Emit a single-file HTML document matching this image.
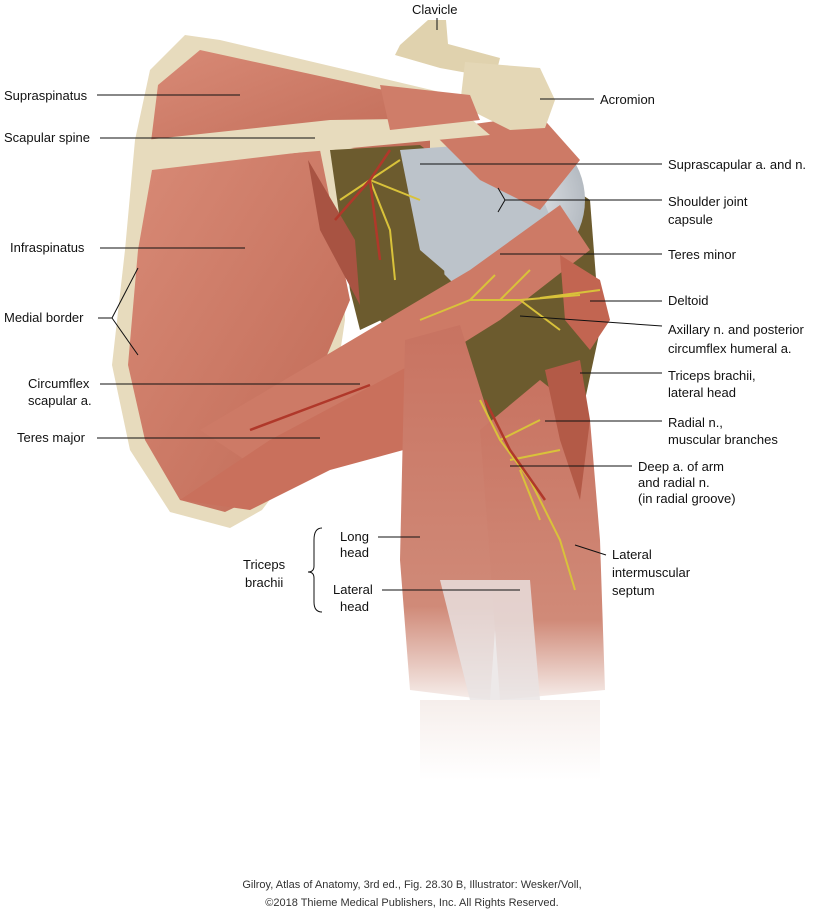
<!DOCTYPE html>
<html><head><meta charset="utf-8"><style>
html,body{margin:0;padding:0;background:#fff;}
svg{display:block}
text{font-family:"Liberation Sans",sans-serif;font-size:13px;fill:#111}
.c{font-size:11px;fill:#333}
line,polyline{stroke:#111;stroke-width:1;fill:none}
</style></head><body>
<svg width="825" height="918" viewBox="0 0 825 918" xmlns="http://www.w3.org/2000/svg">
<defs>
<linearGradient id="m" x1="0" y1="0" x2="1" y2="1">
<stop offset="0" stop-color="#d88a76"/><stop offset="1" stop-color="#c06a56"/></linearGradient>
<linearGradient id="arm" x1="0" y1="0" x2="0" y2="1">
<stop offset="0" stop-color="#c87361"/><stop offset="0.75" stop-color="#d08a78"/><stop offset="1" stop-color="#f6eeeb"/></linearGradient>
<linearGradient id="fade" x1="0" y1="0" x2="0" y2="1">
<stop offset="0" stop-color="#f6eeeb"/><stop offset="1" stop-color="#fff"/></linearGradient>
<radialGradient id="hh" cx="0.5" cy="0.5" r="0.6"><stop offset="0" stop-color="#f0f2f4"/><stop offset="1" stop-color="#a9b0b8"/></radialGradient>
</defs>
<rect x="420" y="700" width="180" height="80" fill="url(#fade)"/>
<path d="M330 140 L470 120 L590 200 L600 330 L570 470 L520 520 L450 420 L380 320 Z" fill="#6c5b2e"/>
<ellipse cx="510" cy="200" rx="75" ry="75" fill="url(#hh)"/>
<path d="M400 150 L520 145 L560 240 L470 300 L420 250 Z" fill="#bcc3ca"/>
<path d="M185 35 L220 40 L440 92 L450 150 L340 160 L345 320 L330 420 L262 510 L230 528 L170 512 L130 450 L112 365 L125 250 L135 140 L150 70 Z" fill="#e7dbbd"/>
<path d="M200 50 L430 100 L430 160 L330 145 L150 150 L158 85 Z" fill="url(#m)"/>
<path d="M152 170 L320 150 L350 300 L300 420 L250 500 L225 512 L180 500 L145 440 L128 365 L138 250 Z" fill="url(#m)"/>
<path d="M330 150 L420 145 L440 160 L445 290 L360 330 L350 290 Z" fill="#6c5b2e"/>
<path d="M400 150 L470 145 L455 280 L420 250 Z" fill="#bcc3ca"/>
<path d="M430 130 L540 115 L580 160 L540 210 L480 180 Z" fill="#cd7a66"/>
<path d="M145 140 L330 120 L470 118 L490 135 L330 150 L150 165 Z" fill="#e7dbbd"/>
<path d="M428 20 L446 20 L448 44 L500 58 L495 78 L440 68 L395 55 L400 45 Z" fill="#e0d2ae"/>
<path d="M465 62 L540 68 L555 100 L545 128 L510 130 L460 105 Z" fill="#e4d7b6"/>
<path d="M380 85 L470 95 L480 120 L390 130 Z" fill="#cf7d69"/>
<path d="M308 160 L355 240 L360 305 L320 230 Z" fill="#a85342"/>
<path d="M200 430 L470 270 L560 205 L590 250 L500 320 L260 470 Z" fill="#cd7a66"/>
<path d="M180 500 L270 440 L420 360 L440 440 L330 470 L250 510 Z" fill="#c9705c"/>
<path d="M560 255 L600 280 L610 320 L590 350 L565 320 Z" fill="#c26551"/>
<path d="M405 340 L460 325 L490 420 L500 560 L490 700 L410 690 L400 560 Z" fill="url(#arm)"/>
<path d="M480 430 L540 380 L590 420 L600 540 L605 690 L500 700 L490 560 Z" fill="url(#arm)"/>
<path d="M440 580 L530 580 L540 700 L470 700 Z" fill="#e9e4e4" opacity="0.8"/>
<path d="M545 370 L580 360 L590 420 L580 500 L560 440 Z" fill="#b35a47"/>
<g stroke="#d9c23a" stroke-width="2" fill="none">
<path d="M420 320 L470 300 L520 300 L580 295"/>
<path d="M470 300 L495 275 M500 300 L530 270 M520 300 L560 330 M540 298 L600 290"/>
<path d="M480 400 L500 440 L530 480 L560 540 L575 590"/>
<path d="M500 440 L540 420 M510 460 L560 450 M520 470 L540 520"/>
<path d="M340 200 L370 180 L400 160 M370 180 L390 230 L395 280 M370 180 L420 200"/>
</g>
<g stroke="#b0382a" stroke-width="2.5" fill="none">
<path d="M335 220 L370 180 L390 150 M370 180 L380 260"/>
<path d="M485 400 L510 450 L545 500"/>
<path d="M250 430 L330 400 L370 385"/>
</g>
<text x="412" y="14">Clavicle</text>
<line x1="437" y1="18" x2="437" y2="30"/>
<text x="4" y="100">Supraspinatus</text><line x1="97" y1="95" x2="240" y2="95"/>
<text x="4" y="142">Scapular spine</text><line x1="100" y1="138" x2="315" y2="138"/>
<text x="10" y="252">Infraspinatus</text><line x1="100" y1="248" x2="245" y2="248"/>
<text x="4" y="322">Medial border</text>
<polyline points="138,268 112,318 138,355"/><line x1="98" y1="318" x2="112" y2="318"/>
<text x="28" y="388">Circumflex</text><text x="28" y="405">scapular a.</text>
<line x1="100" y1="384" x2="360" y2="384"/>
<text x="17" y="442">Teres major</text><line x1="97" y1="438" x2="320" y2="438"/>
<text x="600" y="104">Acromion</text><line x1="540" y1="99" x2="594" y2="99"/>
<text x="668" y="169">Suprascapular a. and n.</text><line x1="420" y1="164" x2="662" y2="164"/>
<text x="668" y="206">Shoulder joint</text><text x="668" y="224">capsule</text>
<polyline points="498,188 505,200 498,212"/><line x1="505" y1="200" x2="662" y2="200"/>
<text x="668" y="259">Teres minor</text><line x1="500" y1="254" x2="662" y2="254"/>
<text x="668" y="305">Deltoid</text><line x1="590" y1="301" x2="662" y2="301"/>
<text x="668" y="334">Axillary n. and posterior</text><text x="668" y="353">circumflex humeral a.</text>
<line x1="520" y1="316" x2="662" y2="326"/>
<text x="668" y="380">Triceps brachii,</text><text x="668" y="397">lateral head</text>
<line x1="580" y1="373" x2="662" y2="373"/>
<text x="668" y="427">Radial n.,</text><text x="668" y="444">muscular branches</text>
<line x1="545" y1="421" x2="662" y2="421"/>
<text x="638" y="471">Deep a. of arm</text><text x="638" y="487">and radial n.</text><text x="638" y="503">(in radial groove)</text>
<line x1="510" y1="466" x2="632" y2="466"/>
<text x="612" y="559">Lateral</text><text x="612" y="577">intermuscular</text><text x="612" y="595">septum</text>
<line x1="575" y1="545" x2="606" y2="555"/>
<text x="243" y="569">Triceps</text><text x="245" y="587">brachii</text>
<path d="M322 528 Q314 528 314 540 L314 566 Q314 572 308 572 Q314 572 314 578 L314 602 Q314 612 322 612" stroke="#111" fill="none"/>
<text x="340" y="541">Long</text><text x="340" y="557">head</text><line x1="378" y1="537" x2="420" y2="537"/>
<text x="333" y="594">Lateral</text><text x="340" y="611">head</text><line x1="382" y1="590" x2="520" y2="590"/>
<text class="c" x="412" y="888" text-anchor="middle">Gilroy, Atlas of Anatomy, 3rd ed., Fig. 28.30 B, Illustrator: Wesker/Voll,</text>
<text class="c" x="412" y="906" text-anchor="middle">©2018 Thieme Medical Publishers, Inc. All Rights Reserved.</text>
</svg>
</body></html>
